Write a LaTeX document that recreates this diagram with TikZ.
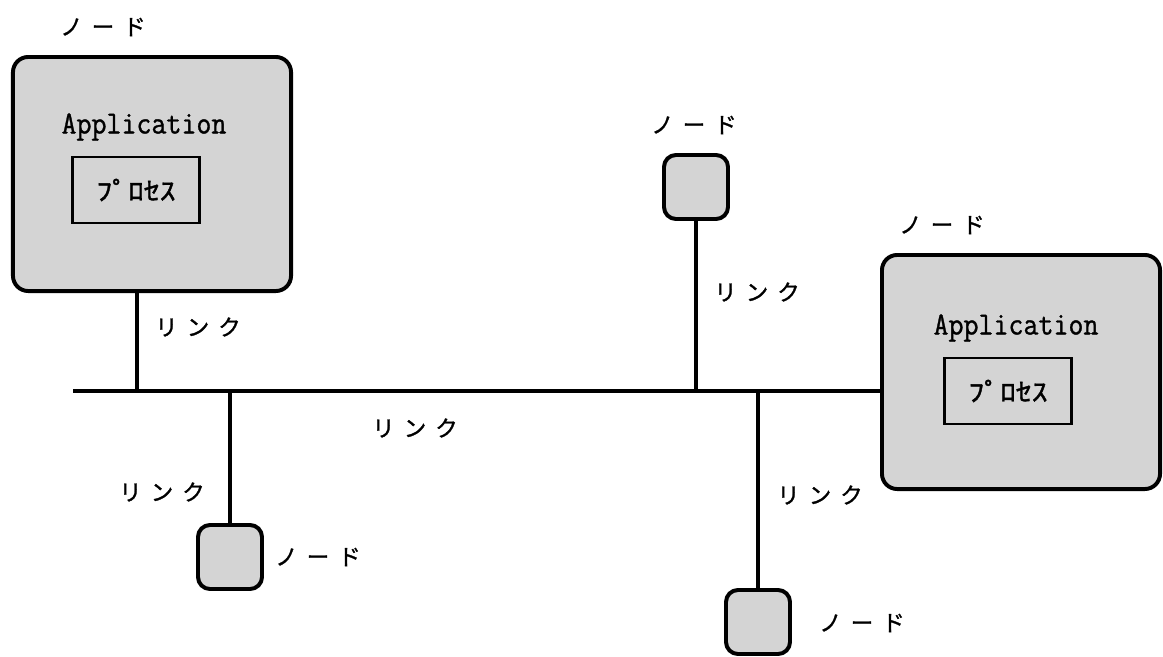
\documentclass[tikz,border=0pt]{standalone}
\usepackage{fontspec}
\usetikzlibrary{positioning}
\newfontfamily\jpfont[FakeBold=1.2]{Noto Sans CJK JP}
\newfontfamily\hkfont[FakeStretch=1.25, FakeBold=1.5]{Noto Sans CJK JP}
\newfontfamily\appfont[FakeStretch=0.9, FakeBold=1]{Latin Modern Mono}
\newcommand{\jsp}{\hspace{0.4em}}

\begin{document}
\begin{tikzpicture}[x=0.025cm, y=-0.025cm,
					bignode/.style={rectangle, rounded corners=0.38cm, draw=black, line width=2.8pt, fill=black!17, minimum width=6.95cm, minimum height=5.85cm},
					smallnode/.style={rectangle, rounded corners=0.3cm, draw=black, line width=2.8pt, fill=black!17, minimum size=1.6cm},
					proc/.style={rectangle, draw=black, line width=1.7pt, minimum width=3.18cm, minimum height=1.65cm, font=\hkfont\fontsize{18}{20}\selectfont},
					apptext/.style={inner sep=0pt, font=\appfont\fontsize{23}{26}\selectfont},
					label/.style={inner sep=0pt, font=\jpfont\fontsize{16}{18}\selectfont}
				]
				\useasboundingbox (0,0) rectangle (1163,657);
				% nodes
				\node[bignode] (appleft) at (152,174) {};
				\node[bignode] (appright) at (1021,372) {};
				\node[apptext] (appleftname) at (144,127) {Application};
				\node[apptext] (apprightname) at (1016,328) {Application};
				\node[proc] (procleft) at (136,190) {ﾌﾟﾛｾｽ};
				\node[proc] (procright) at (1008,391) {ﾌﾟﾛｾｽ};
				\node[smallnode] (nodetop) at (696,187) {};
				\node[smallnode] (nodeleft) at (230,557) {};
				\node[smallnode] (noderight) at (758,622) {};
				% labels
				\node[label] (appleftlabel) at (103,27) {ノ\jsp ー\jsp ド};
				\node[label] (apprightlabel) at (942,225) {ノ\jsp ー\jsp ド};
				\node[label] (nodetoplabel) at (694,125) {ノ\jsp ー\jsp ド};
				\node[label] (nodeleftlabel) at (318,557) {ノ\jsp ー\jsp ド};
				\node[label] (noderightlabel) at (862,623) {ノ\jsp ー\jsp ド};
				\node[label] (linkleft) at (198,327) {リ\jsp ン\jsp ク};
				\node[label] (linkbus) at (415,428) {リ\jsp ン\jsp ク};
				\node[label] (linktop) at (757,292) {リ\jsp ン\jsp ク};
				\node[label] (linkdownleft) at (162,492) {リ\jsp ン\jsp ク};
				\node[label] (linkdownright) at (820,495) {リ\jsp ン\jsp ク};
				% bus
				\coordinate (busstart) at (73,391);
				\coordinate (tapleft) at (137,391);
				\begin{scope}[line width=2.4pt]
				\draw (busstart) -- (busstart -| appright.west);
				\draw (appleft.south -| tapleft) -- (tapleft);
				\draw (nodetop.south) -- (nodetop.south |- busstart);
				\draw (nodeleft.north) -- (nodeleft.north |- busstart);
				\draw (noderight.north) -- (noderight.north |- busstart);
				\end{scope}
				\end{tikzpicture}
\end{document}
